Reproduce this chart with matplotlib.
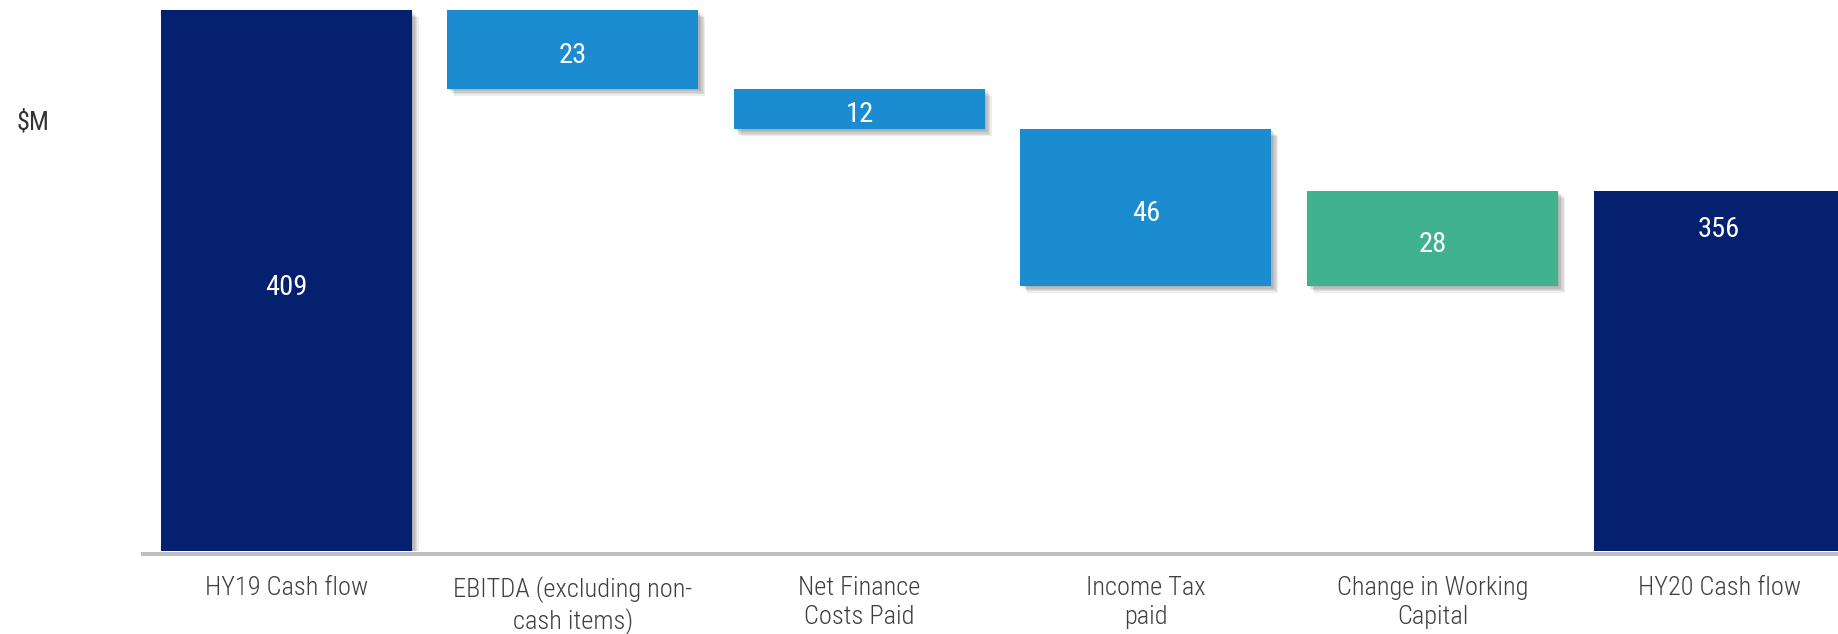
import matplotlib
matplotlib.use("Agg")
import matplotlib.pyplot as plt
import matplotlib.patheffects as pe
from matplotlib import font_manager

# ---- data ----
categories = ["HY19 Cash flow", "EBITDA (excluding non-\ncash items)", "Net Finance\nCosts Paid",
              "Income Tax\npaid", "Change in Working\nCapital", "HY20 Cash flow"]
values = [409, -23, -12, -46, 28, 356]
is_total = [True, False, False, False, False, True]
value_labels = ["409", "23", "12", "46", "28", "356"]
y_unit = "$M"

NAVY = "#04206f"
BLUE = "#1b8ccf"
GREEN = "#40b28e"
TEXT = "#404040"

avail = {f.name for f in font_manager.fontManager.ttflist}
cands = ["Liberation Sans Narrow", "Roboto Condensed", "Ubuntu Condensed", "Open Sans Condensed",
         "Roboto", "DejaVu Sans"]
fam = [f for f in cands if f in avail]
plt.rcParams["font.family"] = fam

W, H, DPI = 1838, 634, 100
fig = plt.figure(figsize=(W / DPI, H / DPI), dpi=DPI)
ax_left = 143 / W
ax_bottom = (H - 551) / H
ax = fig.add_axes([ax_left, ax_bottom, 1 - ax_left, 1 - ax_bottom])

ymin = 250
ymax = 409 + 10.5 / ((551 - 10.5) / (409 - 250))
ax.set_ylim(ymin, ymax)
ax.set_xlim(-0.5, 5.415)

shadow = [pe.SimplePatchShadow(offset=(k, -k), shadow_rgbFace="#000000", alpha=0.07) for k in (1, 2, 3, 4, 5)]
shadow.append(pe.Normal())

FS = 19
VFS = 20.5
running = 0
x = list(range(len(categories)))
for i, (v, tot) in enumerate(zip(values, is_total)):
    if tot:
        bottom, height, color = 0, v, NAVY
        running = v
    else:
        new = running + v
        bottom, height = min(running, new), abs(v)
        color = GREEN if v > 0 else BLUE
        running = new
    bars = ax.bar(i, height, bottom=bottom, width=0.876, color=color, zorder=3)
    for b in bars:
        b.set_path_effects(shadow)
    top = bottom + height
    kw = dict(color="white", fontsize=VFS, fontweight="normal", ha="center", va="center_baseline", zorder=5)
    if tot and i == 0:
        ax.annotate(value_labels[i], (i, (max(bottom, ymin) + top) / 2), xytext=(0, -3),
                    textcoords="offset points", **kw)
    elif tot:
        ax.annotate(value_labels[i], (i, top), xytext=(0, -36 * 0.72), textcoords="offset points", **kw)
    else:
        ax.annotate(value_labels[i], (i, bottom + height / 2), xytext=(0, -2),
                    textcoords="offset points", **kw)

for s in ["top", "right", "left"]:
    ax.spines[s].set_visible(False)
ax.spines["bottom"].set_color("#bfbfbf")
ax.spines["bottom"].set_linewidth(4 * 0.72)
ax.spines["bottom"].set_position(("outward", 2))
ax.spines["bottom"].set_zorder(2)
ax.set_yticks([])
ax.set_xticks(x)
ax.set_xticklabels(categories, fontsize=FS, color=TEXT, linespacing=1.25, fontweight="light")
ax.tick_params(axis="x", length=0, pad=16)

fig.text(17 / W, 1 - 120 / H, y_unit, fontsize=FS, color="#333333", ha="left", va="center_baseline")

fig.savefig("out.png", dpi=DPI)
